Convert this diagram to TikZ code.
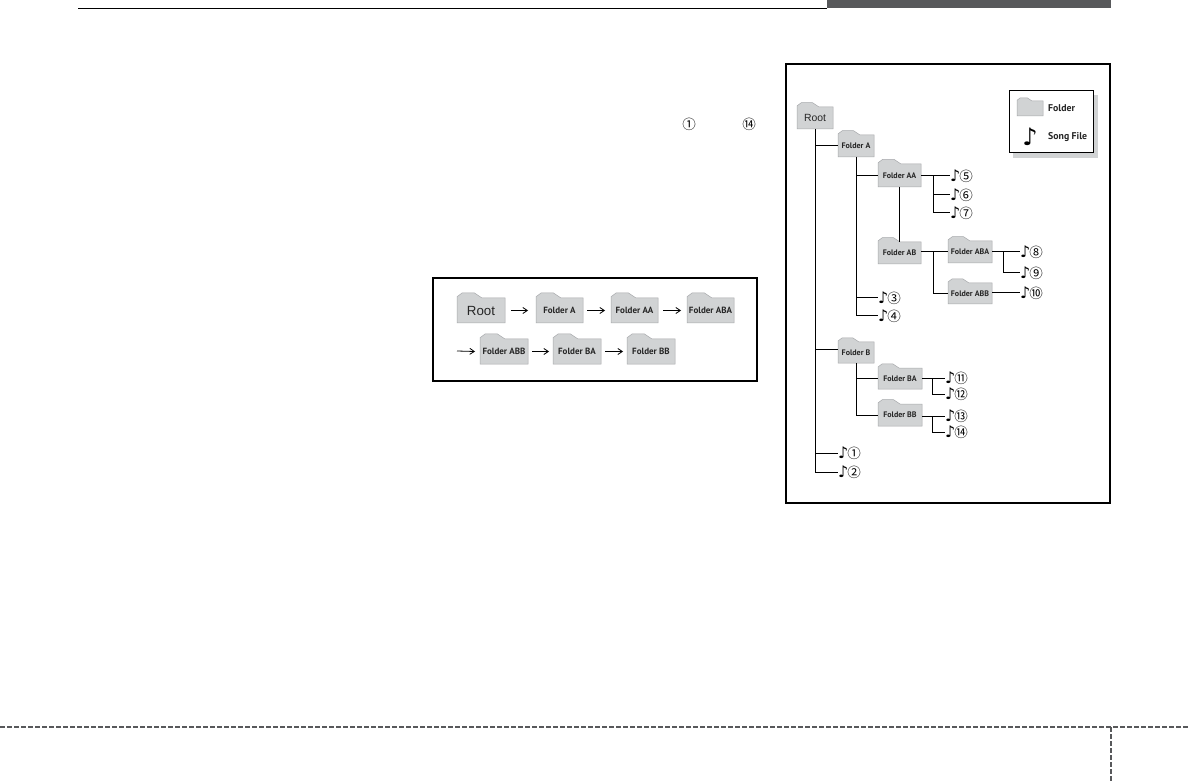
\documentclass[tikz,border=0pt]{standalone}
\usepackage{fontspec}
\setmainfont{PT Sans}
\newfontfamily\symfont{DejaVu Sans}
\newfontfamily\cjk{Noto Sans CJK SC}
\newfontfamily\rootfont{Liberation Sans}
\usetikzlibrary{arrows.meta,calc}

\definecolor{foldergray}{HTML}{D1D3D4}
\definecolor{foldershade}{HTML}{A7A9AC}
\definecolor{bargray}{HTML}{58595B}

\tikzset{
    folder/.style={inner sep=0pt, font=\bfseries\fontsize{8pt}{9pt}\selectfont, text=black!85},
    folderbig/.style={folder, font=\bfseries\fontsize{9pt}{10pt}\selectfont},
    legendtext/.style={folder, anchor=west, font=\bfseries\fontsize{9.8pt}{11pt}\selectfont},
    rootlabel/.style={inner sep=0pt, text=black!85},
    branch/.style={line width=1pt, black},
    flow/.style={line width=0.8pt, black, -{Straight Barb[length=4.5pt,width=6pt]}},
    songfile/.style={inner sep=0pt, anchor=west},
    circled/.style={inner sep=0pt, font=\cjk\fontsize{13.5pt}{14pt}\selectfont},
}

% song file: note and circled number
\newcommand{\songmark}[1]{{\symfont\fontsize{16pt}{16pt}\selectfont ♪}\hspace{-1pt}{\cjk\fontsize{13.5pt}{14pt}\selectfont #1}}

% folder: text style, name, left, right, body top, bottom, text
\newcommand{\folderat}[7][folder]{
    \fill[foldergray, draw=foldershade, line width=0.5pt]
        (#3,#6) -- (#3,{#5-0.05*(#6-#5)}) -- ({#3+0.2*(#6-#5)},{#5-0.2*(#6-#5)})
        -- ({#3+0.7*(#6-#5)},{#5-0.2*(#6-#5)}) -- ({#3+1.0*(#6-#5)},#5)
        -- (#4,#5) -- (#4,#6) -- cycle;
    \node[#1] (#2) at ({(#3+#4)/2},{(#5+#6)/2}) {#7};
    \coordinate (#2-w) at (#3,{(#5+#6)/2});
    \coordinate (#2-e) at (#4,{(#5+#6)/2});
    \coordinate (#2-s) at ({(#3+#4)/2},#6);
    \coordinate (#2-n) at ({(#3+#4)/2},#5);
}

\begin{document}
\begin{tikzpicture}[x=1pt, y=-1pt]
    \useasboundingbox[fill=white] (0,0) rectangle (1188,783);

    % page furniture
    \fill[bargray] (827,0) rectangle (1111,8.5);
    \draw[line width=1pt, black] (78,8.5) -- (827,8.5);
    \draw[line width=2pt, bargray, dash pattern=on 4.5pt off 2.5pt] (0,727) -- (1188,727);
    \draw[line width=2pt, bargray, dash pattern=on 4.5pt off 2.5pt] (1111,727) -- (1111,783);

    % circled numbers of the text column
    \node[circled] (numfirst) at (689,124) {①};
    \node[circled] (numlast) at (749,124) {⑭};

    % playing order box
    \draw[line width=2pt, black] (433,278) rectangle (757,381);

    \folderat[folderbig]{oroot}{457}{505}{298}{323}{}
    \folderat[folderbig]{oa}{536}{583}{298}{323}{Folder A}
    \folderat[folderbig]{oaa}{611}{658}{298}{323}{Folder AA}
    \folderat[folderbig]{oaba}{687}{734}{298}{323}{Folder ABA}
    \folderat[folderbig]{oabb}{480}{528}{339}{364}{Folder ABB}
    \folderat[folderbig]{oba}{553}{601}{339}{364}{Folder BA}
    \folderat[folderbig]{obb}{627}{675}{339}{364}{Folder BB}
    \node[rootlabel, font=\rootfont\fontsize{13.3pt}{15pt}\selectfont] (orootlabel) at (oroot) {Root};

    \coordinate (ostart) at (457,351);
    \draw[flow] ($(oroot-e)+(6,0)$) -- ($(oa-w)+(-8,0)$);
    \draw[flow] ($(oa-e)+(4,0)$) -- ($(oaa-w)+(-6,0)$);
    \draw[flow] ($(oaa-e)+(5,0)$) -- ($(oaba-w)+(-6,0)$);
    \draw[flow] (ostart) -- ($(oabb-w)+(-5,0)$);
    \draw[flow] ($(oabb-e)+(4,0)$) -- ($(oba-w)+(-4,0)$);
    \draw[flow] ($(oba-e)+(4,0)$) -- ($(obb-w)+(-4,0)$);

    % folder tree box
    \draw[line width=2pt, black] (786,64) rectangle (1110,503);

    % legend
    \fill[foldergray] (1013,95) rectangle (1098,158);
    \draw[line width=1pt, black, fill=white] (1009,91) rectangle (1093,153);
    \folderat{legfolder}{1017}{1043}{101}{116}{}
    \node[legendtext] (legfoldertext) at (1048,108) {Folder};
    \node[inner sep=0pt, font=\symfont\fontsize{24pt}{26pt}\selectfont] (legnote) at (1030,137) {♪};
    \node[legendtext] (legsongtext) at (1048,137) {Song File};

    % folders
    \folderat{root}{797}{833}{107}{129}{}
    \node[rootlabel, font=\rootfont\fontsize{10.4pt}{12pt}\selectfont] (rootlabel) at (root) {Root};
    \folderat{fa}{838}{874}{135}{157}{Folder A}
    \folderat{faa}{878}{921}{164}{187}{Folder AA}
    \folderat{fab}{878}{921}{242}{264}{Folder AB}
    \folderat{faba}{948}{992}{241}{263}{Folder ABA}
    \folderat{fabb}{948}{992}{283}{304}{Folder ABB}
    \folderat{fb}{838}{874}{342}{363}{Folder B}
    \folderat{fba}{878}{922}{368}{389}{Folder BA}
    \folderat{fbb}{878}{922}{404}{426}{Folder BB}

    % song files
    \node[songfile] (s1) at (838,453) {\songmark{①}};
    \node[songfile] (s2) at (838,472) {\songmark{②}};
    \node[songfile] (s3) at (878,298) {\songmark{③}};
    \node[songfile] (s4) at (878,316) {\songmark{④}};
    \node[songfile] (s5) at (950,176) {\songmark{⑤}};
    \node[songfile] (s6) at (950,195) {\songmark{⑥}};
    \node[songfile] (s7) at (950,213) {\songmark{⑦}};
    \node[songfile] (s8) at (1020,252) {\songmark{⑧}};
    \node[songfile] (s9) at (1020,273) {\songmark{⑨}};
    \node[songfile] (s10) at (1020,293) {\songmark{⑩}};
    \node[songfile] (s11) at (945,378) {\songmark{⑪}};
    \node[songfile] (s12) at (945,394) {\songmark{⑫}};
    \node[songfile] (s13) at (945,416) {\songmark{⑬}};
    \node[songfile] (s14) at (945,432) {\songmark{⑭}};

    % branches from the root
    \coordinate (rootjoinb) at (815,350);
    \draw[branch] (root-s) |- (s2.west);
    \draw[branch] (root-s |- fa-w) -- (fa-w);
    \draw[branch] (rootjoinb) -- (rootjoinb -| fb-w);
    \draw[branch] (root-s |- s1.west) -- (s1.west);

    % branches of folder A
    \draw[branch] (fa-s) |- (s4.west);
    \draw[branch] (fa-s |- faa-w) -- (faa-w);
    \draw[branch] (fa-s |- s3.west) -- (s3.west);
    \draw[branch] (faa-s) -- (fab-n);
    \draw[branch] (faa-e |- s5.west) -- (s5.west);
    \coordinate (aafork) at (933,176);
    \draw[branch] (aafork) |- (s7.west);
    \draw[branch] (aafork |- s6.west) -- (s6.west);
    \coordinate (abfork) at (933,252);
    \draw[branch] (abfork -| fab-e) -- (abfork -| faba-w);
    \draw[branch] (abfork) |- (fabb-w);
    \draw[branch] (faba-e |- s8.west) -- (s8.west);
    \coordinate (abafork) at (1003,252);
    \draw[branch] (abafork) |- (s9.west);
    \draw[branch] (fabb-e |- s10.west) -- (s10.west);

    % branches of folder B
    \draw[branch] (fb-s) |- (fbb-w);
    \draw[branch] (fb-s |- fba-w) -- (fba-w);
    \draw[branch] (fba-e |- s11.west) -- (s11.west);
    \coordinate (bafork) at (932,378);
    \draw[branch] (bafork) |- (s12.west);
    \draw[branch] (fbb-e |- s13.west) -- (s13.west);
    \coordinate (bbfork) at (932,416);
    \draw[branch] (bbfork) |- (s14.west);
\end{tikzpicture}
\end{document}
